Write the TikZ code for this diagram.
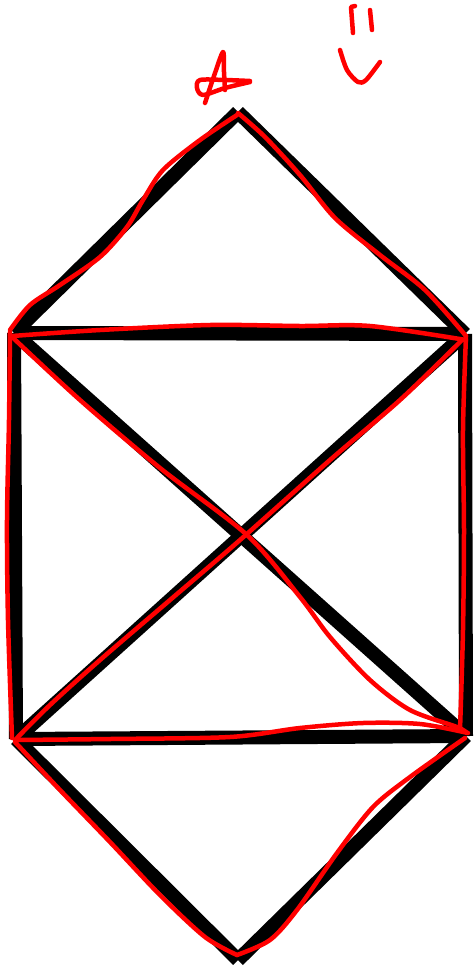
\documentclass[tikz,border=0pt]{standalone}
\begin{document}
\begin{tikzpicture}[x=1pt,y=-1pt,
  blackedge/.style={line width=14pt,black,line cap=butt},
  redink/.style={line width=4.5pt,red,line cap=round,line join=round}]
\useasboundingbox[fill=white] (0,0) rectangle (474,970);
% vertices
\coordinate (T) at (238,112);
\coordinate (UL) at (14,333);
\coordinate (UR) at (465,334);
\coordinate (LL) at (16,739);
\coordinate (LR) at (466,736);
\coordinate (B) at (238,960);
% black frame
\draw[blackedge] (T) -- (UL);
\draw[blackedge] (T) -- (UR);
\draw[blackedge] (UL) -- (UR);
\draw[blackedge] (UL) -- (LL);
\draw[blackedge] (UR) -- (LR);
\draw[blackedge] (LL) -- (LR);
\draw[blackedge] (UL) -- (LR);
\draw[blackedge] (UR) -- (LL);
\draw[blackedge] (LL) -- (B);
\draw[blackedge] (LR) -- (B);
% red tracing
\draw[redink] plot[smooth] coordinates {(237,115) (200,140) (163,170) (143,200) (127,227) (100,257) (60,285) (30,305) (10,330)};
\draw[redink] plot[smooth] coordinates {(238,113) (265,137) (300,175) (335,218) (380,255) (425,290) (466,336)};
\draw[redink] plot[smooth] coordinates {(12,336) (100,330) (210,325) (300,326) (370,326) (466,340)};
\draw[redink] plot[smooth] coordinates {(10,332) (9,420) (7,520) (8,620) (12,738)};
\draw[redink] plot[smooth] coordinates {(466,336) (463,430) (464,530) (463,630) (460,730)};
\draw[redink] plot[smooth] coordinates {(10,335) (80,400) (160,468) (247,535) (300,597) (330,637) (370,680) (410,710) (457,727) (467,733)};
\draw[redink] plot[smooth] coordinates {(462,340) (400,400) (330,460) (240,540) (170,600) (100,660) (50,705) (15,740)};
\draw[redink] plot[smooth] coordinates {(15,740) (110,739) (230,737) (300,728) (363,723) (420,724) (468,733)};
\draw[redink] plot[smooth] coordinates {(15,742) (60,790) (110,842) (160,895) (205,937) (237,955)};
\draw[redink] plot[smooth] coordinates {(237,955) (270,940) (297,910) (337,853) (373,807) (410,777) (465,738)};
% doodles at top
\draw[redink] plot[smooth] coordinates {(205,103) (214,76) (223,52) (224,72) (225,90)};
\draw[redink] plot[smooth] coordinates {(250,81) (225,80) (200,80) (197,88) (203,95) (225,88) (250,82)};
\draw[redink] (355,6) -- (351,7) -- (353,33);
\draw[redink] (370,10) -- (372,30);
\draw[redink] plot[smooth] coordinates {(340,50) (347,70) (358,82) (366,80) (380,62)};
\end{tikzpicture}
\end{document}
